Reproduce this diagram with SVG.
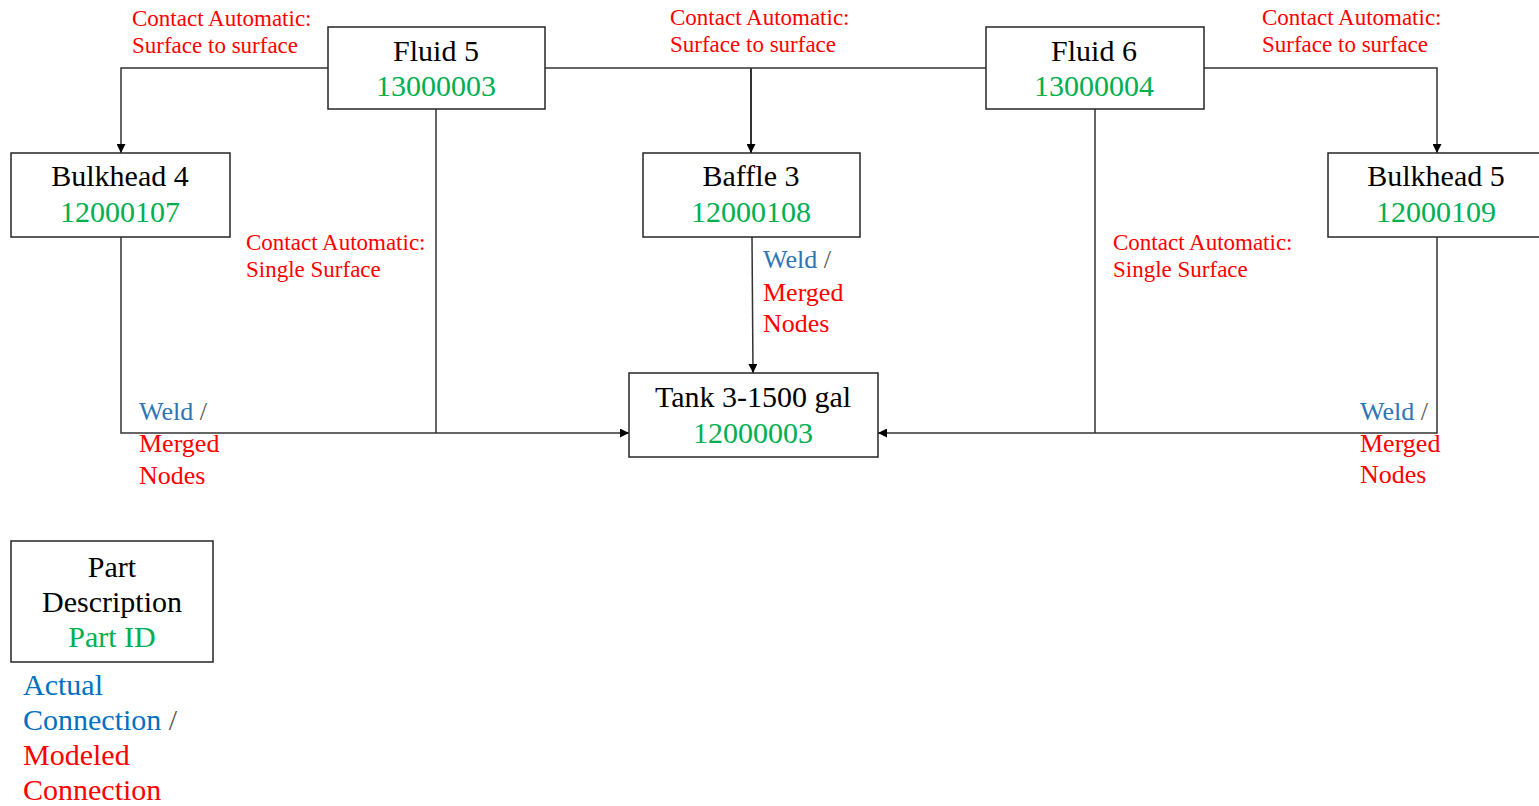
<svg xmlns="http://www.w3.org/2000/svg" width="1539" height="806" viewBox="0 0 1539 806">
<style>
text{font-family:"Liberation Serif","Times New Roman",serif}
.box{fill:#fff;stroke:#262626;stroke-width:1.5}
.nm{font-size:30px;fill:#000;text-anchor:middle}
.id{font-size:30px;fill:#00B050;text-anchor:middle}
.ct{font-size:23px;fill:#FF0000}
.wd{font-size:26px}
.lg{font-size:30px}
.blue{fill:#2E75B6}
.lblue{fill:#0070C0}
.red{fill:#FF0000}
.sl{fill:#595959}
.ln{fill:none;stroke:#333;stroke-width:1.5}
</style>
<defs>
<marker id="ah" viewBox="0 0 10 10" refX="10" refY="5" markerWidth="9" markerHeight="9" markerUnits="userSpaceOnUse" orient="auto">
<path d="M0,0 L10,5 L0,10 Z" fill="#000"/>
</marker>
</defs>
<rect width="1539" height="806" fill="#fff"/>
<g id="connectors">
<path class="ln" d="M328,68 H121 V153" marker-end="url(#ah)"/>
<path class="ln" d="M545,68 H986"/>
<path class="ln" d="M751,68 V153" style="stroke-width:2" marker-end="url(#ah)"/>
<path class="ln" d="M1204,68 H1437 V153" marker-end="url(#ah)"/>
<path class="ln" d="M121,237 V433 H629" marker-end="url(#ah)"/>
<path class="ln" d="M436,109 V433"/>
<path class="ln" d="M752,237 L753,373" marker-end="url(#ah)"/>
<path class="ln" d="M1095,109 V433"/>
<path class="ln" d="M1437,237 V433 H878" marker-end="url(#ah)"/>
</g>
<g id="fluid5">
<rect class="box" x="328" y="27" width="217" height="82"/>
<text class="nm" x="436" y="61">Fluid 5</text>
<text class="id" x="436" y="96">13000003</text>
</g>
<g id="fluid6">
<rect class="box" x="986" y="27" width="218" height="82"/>
<text class="nm" x="1094" y="61">Fluid 6</text>
<text class="id" x="1094" y="96">13000004</text>
</g>
<g id="bulkhead4">
<rect class="box" x="11" y="153" width="219" height="84"/>
<text class="nm" x="120" y="186">Bulkhead 4</text>
<text class="id" x="120" y="222">12000107</text>
</g>
<g id="baffle3">
<rect class="box" x="643" y="153" width="217" height="84"/>
<text class="nm" x="751" y="186">Baffle 3</text>
<text class="id" x="751" y="222">12000108</text>
</g>
<g id="bulkhead5">
<rect class="box" x="1328" y="153" width="220" height="84"/>
<text class="nm" x="1436" y="186">Bulkhead 5</text>
<text class="id" x="1436" y="222">12000109</text>
</g>
<g id="tank">
<rect class="box" x="629" y="373" width="249" height="84"/>
<text class="nm" x="753" y="407">Tank 3-1500 gal</text>
<text class="id" x="753" y="443">12000003</text>
</g>
<g id="legend">
<rect class="box" x="11" y="541" width="202" height="121"/>
<text class="nm" x="112" y="577">Part</text>
<text class="nm" x="112" y="612">Description</text>
<text class="id" x="112" y="647">Part ID</text>
<text x="23" y="695" class="lg lblue">Actual</text>
<text x="23" y="730" class="lg"><tspan class="lblue">Connection</tspan><tspan class="sl"> /</tspan></text>
<text x="23" y="765" class="lg red">Modeled</text>
<text x="23" y="800" class="lg red">Connection</text>
</g>
<g id="labels">
<text class="ct" x="132" y="26">Contact Automatic:</text>
<text class="ct" x="132" y="53">Surface to surface</text>
<text class="ct" x="670" y="25">Contact Automatic:</text>
<text class="ct" x="670" y="52">Surface to surface</text>
<text class="ct" x="1262" y="25">Contact Automatic:</text>
<text class="ct" x="1262" y="52">Surface to surface</text>
<text class="ct" x="246" y="250">Contact Automatic:</text>
<text class="ct" x="246" y="277">Single Surface</text>
<text class="ct" x="1113" y="250">Contact Automatic:</text>
<text class="ct" x="1113" y="277">Single Surface</text>
<text class="wd" x="139" y="420"><tspan class="blue">Weld</tspan><tspan class="sl"> /</tspan></text>
<text class="wd red" x="139" y="452">Merged</text>
<text class="wd red" x="139" y="484">Nodes</text>
<text class="wd" x="763" y="268"><tspan class="blue">Weld</tspan><tspan class="sl"> /</tspan></text>
<text class="wd red" x="763" y="301">Merged</text>
<text class="wd red" x="763" y="332">Nodes</text>
<text class="wd" x="1360" y="420"><tspan class="blue">Weld</tspan><tspan class="sl"> /</tspan></text>
<text class="wd red" x="1360" y="452">Merged</text>
<text class="wd red" x="1360" y="483">Nodes</text>
</g>
</svg>
